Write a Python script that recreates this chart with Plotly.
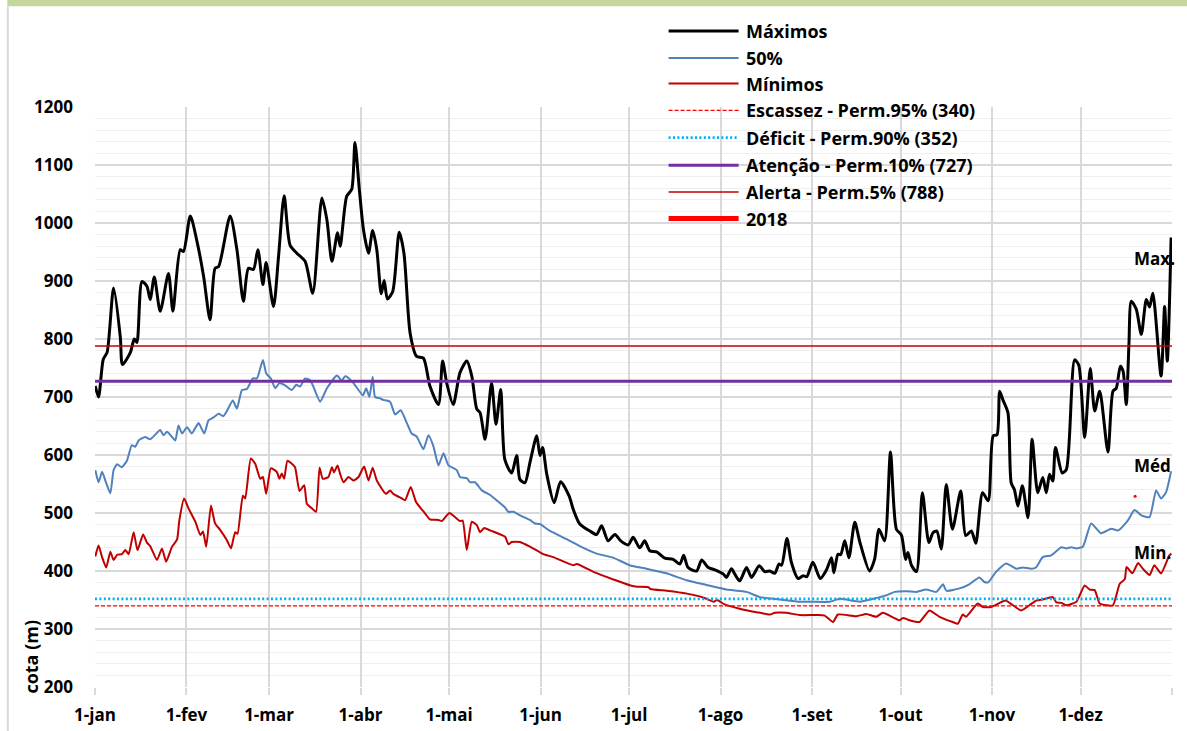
import plotly.graph_objects as go

# ---------------- data ----------------
month_days = [0, 31, 59, 90, 120, 151, 181, 212, 243, 273, 304, 334, 365]
month_labels = ["1-jan", "1-fev", "1-mar", "1-abr", "1-mai", "1-jun", "1-jul",
                "1-ago", "1-set", "1-out", "1-nov", "1-dez", ""]

max_days = [0.1, 1.2, 2.8, 4.1, 6.3, 8.6, 9.3, 12.0, 13.3, 14.2, 15.9, 17.6, 18.7, 20.1, 22.1,
            24.9, 26.4, 28.9, 30.0, 32.3, 34.7, 36.8, 39.0, 40.7, 41.9, 45.8, 48.1, 50.3, 52.0,
            53.7, 55.2, 56.9, 58.0, 60.5, 62.2, 64.1, 66.1, 68.4, 71.2, 73.8, 76.9, 78.6, 80.3,
            82.2, 83.1, 85.3, 87.0, 88.1, 89.6, 91.0, 92.7, 94.1, 95.5, 97.0, 98.0, 99.1, 100.9,
            103.1, 104.7, 106.8, 109.0, 111.3, 113.5, 116.4, 117.8, 119.2, 121.4, 123.7, 126.0,
            127.7, 129.4, 130.5, 132.2, 134.4, 135.9, 137.5, 138.9, 141.2, 142.9, 144.0, 145.7,
            147.4, 149.7, 150.8, 151.7, 153.1, 155.6, 157.8, 160.7, 162.1, 164.3, 167.7, 170.0,
            171.7, 173.9, 176.2, 178.2, 180.7, 182.4, 184.6, 186.3, 188.0, 190.3, 193.1, 195.9,
            198.2, 199.5, 201.0, 203.9, 205.6, 207.8, 210.1, 212.9, 214.0, 215.7, 216.8, 218.5,
            220.8, 222.5, 225.1, 227.0, 228.7, 230.4, 231.8, 232.7, 234.5, 236.0, 238.3, 240.0,
            241.2, 243.3, 245.8, 247.9, 249.6, 250.4, 251.8, 252.7, 254.1, 255.5, 257.5, 259.2,
            262.5, 264.2, 265.7, 267.6, 269.6, 271.6, 273.3, 274.7, 275.5, 276.7, 278.4, 280.4,
            282.6, 284.0, 285.3, 286.8, 288.5, 290.6, 293.4, 295.1, 297.0, 298.5, 300.8, 302.7,
            304.4, 305.7, 306.6, 307.7, 309.4, 310.5, 311.6, 312.8, 314.3, 316.2, 317.6, 319.5,
            321.2, 322.4, 323.5, 324.6, 325.5, 327.8, 329.2, 332.0, 333.4, 335.4, 337.3, 338.8,
            340.5, 343.3, 345.0, 346.1, 347.5, 348.4, 349.5, 350.4, 351.2, 352.9, 354.6, 356.3,
            357.4, 358.5, 361.3, 362.5, 363.4, 364.7]
max_vals = [719, 700, 765, 777, 888, 802, 756, 777, 800, 794, 899, 891, 868, 907, 848,
            913, 848, 954, 951, 1012, 965, 908, 833, 922, 925, 1012, 954, 865, 922,
            920, 954, 894, 932, 856, 942, 1047, 962, 948, 934, 879, 1043, 1005, 934,
            983, 960, 1046, 1058, 1139, 1057, 988, 948, 987, 954, 878, 901, 869, 882,
            984, 948, 810, 770, 767, 719, 687, 762, 724, 687, 742, 762,
            736, 679, 673, 627, 724, 653, 713, 592, 569, 599, 558, 552,
            587, 633, 599, 613, 567, 518, 554, 529, 506, 481, 469, 463,
            478, 452, 463, 452, 445, 458, 440, 452, 435, 433, 422, 420,
            412, 427, 406, 400, 419, 406, 402, 395, 389, 404, 395, 383,
            406, 389, 409, 399, 400, 396, 412, 410, 456, 415, 387, 392,
            390, 415, 387, 402, 423, 397, 429, 428, 452, 423, 484, 450,
            400, 420, 472, 452, 605, 472, 462, 420, 432, 410, 399, 535,
            449, 466, 469, 438, 549, 472, 538, 461, 469, 448, 535, 521,
            633, 635, 710, 695, 673, 552, 540, 512, 547, 492, 627, 535,
            561, 535, 567, 555, 613, 569, 575, 764, 755, 630, 749, 676,
            710, 605, 710, 715, 753, 745, 687, 790, 865, 851, 808, 868,
            855, 879, 736, 856, 762, 975]

med_days = [0.1, 1.2, 2.4, 3.5, 5.2, 6.3, 7.5, 9.1, 10.8, 12.5, 13.6, 14.8, 17.0, 18.7, 22.1,
            23.2, 24.4, 26.1, 27.2, 28.3, 29.5, 31.2, 32.8, 35.1, 37.0, 38.5, 40.2, 41.9, 43.5,
            44.5, 46.7, 48.1, 49.8, 51.5, 53.5, 54.9, 56.9, 58.0, 59.6, 61.1, 62.5, 64.4, 66.7,
            68.2, 69.5, 71.2, 72.9, 74.0, 76.3, 78.6, 82.0, 83.6, 84.8, 87.6, 90.8, 91.9, 93.0,
            94.1, 94.9, 96.4, 97.7, 100.0, 101.7, 103.6, 105.7, 107.3, 109.0, 111.3, 113.0,
            114.7, 116.4, 118.1, 119.8, 122.6, 123.7, 126.0, 127.1, 128.8, 131.1, 133.9, 136.1,
            138.9, 140.1, 141.8, 144.0, 147.4, 149.1, 150.8, 154.2, 159.8, 164.3, 170.0, 175.6,
            181.2, 186.9, 193.7, 200.5, 207.2, 214.0, 220.8, 225.3, 232.1, 238.9, 242.3, 249.0,
            252.4, 259.2, 263.7, 268.2, 271.0, 275.0, 278.4, 281.7, 285.1, 287.4, 288.5, 293.0,
            296.3, 299.7, 301.4, 302.8, 305.3, 308.8, 312.2, 314.4, 317.3, 318.9, 321.2, 324.1,
            327.5, 329.2, 330.9, 332.6, 334.8, 337.6, 341.0, 344.4, 346.7, 350.0, 352.3, 354.6,
            357.4, 359.6, 361.3, 363.0, 364.7]
med_vals = [574, 553, 571, 556, 534, 574, 584, 579, 590, 617, 614, 625, 631, 627, 643,
            634, 640, 631, 625, 651, 637, 648, 637, 655, 637, 660, 665, 671, 667,
            674, 694, 680, 712, 714, 732, 732, 764, 741, 732, 715, 724, 720, 712,
            721, 718, 732, 729, 718, 692, 715, 737, 728, 736, 724, 703, 715, 700,
            735, 700, 698, 695, 692, 670, 677, 655, 637, 632, 610, 634,
            615, 582, 603, 582, 574, 562, 560, 553, 553, 539, 531, 522,
            510, 502, 502, 496, 488, 482, 481, 469, 455, 443, 430, 423,
            410, 404, 396, 384, 376, 368, 364, 355, 351, 347, 347, 347,
            352, 347, 352, 358, 364, 365, 364, 368, 364, 377, 366, 370,
            377, 389, 381, 381, 398, 413, 404, 406, 404, 406, 424, 427,
            441, 439, 441, 439, 442, 482, 465, 473, 470, 487, 505, 496,
            493, 539, 525, 536, 572]

min_days = [0.1, 1.2, 2.4, 3.8, 5.2, 6.3, 7.5, 9.1, 10.3, 11.4, 13.1, 14.4, 16.3, 17.6, 18.7,
            21.0, 22.7, 24.1, 26.1, 27.8, 28.6, 30.2, 31.7, 34.0, 35.7, 36.6, 37.7, 39.3, 40.7,
            42.4, 44.7, 46.1, 47.5, 48.3, 50.1, 50.9, 52.8, 54.3, 56.0, 56.9, 58.0, 59.6, 61.6,
            62.5, 63.3, 64.1, 65.2, 66.7, 67.8, 69.3, 70.9, 71.8, 73.5, 74.9, 76.1, 77.2, 79.1,
            80.3, 81.0, 82.2, 83.1, 84.2, 85.9, 87.6, 89.3, 91.2, 92.7, 94.1, 95.5, 98.6, 100.0,
            101.1, 104.0, 105.1, 107.0, 108.8, 111.9, 113.5, 116.4, 117.5, 120.1, 122.0, 123.7,
            124.6, 126.0, 127.7, 129.4, 130.5, 131.9, 133.9, 139.0, 140.1, 141.2, 144.0, 147.4,
            151.9, 155.3, 162.1, 163.3, 169.1, 175.9, 181.5, 183.8, 187.6, 188.2, 193.8, 200.6,
            206.3, 209.7, 210.8, 213.2, 218.5, 224.2, 228.7, 230.4, 234.3, 238.8, 244.5, 247.3,
            250.1, 251.8, 258.0, 261.4, 264.8, 267.0, 272.7, 273.8, 276.1, 279.4, 282.8, 286.2,
            290.7, 292.4, 294.1, 295.2, 296.3, 299.2, 300.9, 303.7, 306.6, 308.6, 311.1, 313.9,
            316.7, 319.0, 321.2, 324.6, 325.8, 327.5, 329.2, 332.6, 335.4, 337.1, 338.8, 340.5,
            342.7, 345.0, 347.3, 349.0, 349.6, 351.6, 353.5, 355.1, 357.4, 359.0, 361.3, 364.1,
            364.8]
min_vals = [425, 444, 424, 406, 433, 419, 428, 429, 436, 429, 467, 436, 463, 449, 443,
            419, 439, 416, 442, 454, 488, 525, 508, 485, 462, 468, 442, 513, 482,
            471, 453, 439, 467, 464, 530, 525, 594, 585, 559, 562, 533, 577, 571,
            559, 568, 559, 590, 585, 579, 538, 548, 516, 508, 502, 578, 559, 562,
            579, 570, 582, 567, 553, 562, 556, 562, 580, 556, 578, 556, 533, 539,
            533, 525, 522, 545, 519, 499, 489, 488, 486, 500, 493, 486,
            487, 436, 485, 479, 467, 474, 470, 459, 446, 450, 450, 442,
            429, 424, 410, 412, 398, 385, 375, 373, 372, 369, 366, 361,
            354, 347, 350, 343, 335, 329, 325, 328, 328, 324, 324, 323,
            312, 325, 322, 326, 321, 328, 315, 319, 315, 312, 332, 321,
            312, 309, 325, 321, 327, 344, 338, 338, 345, 349, 341, 332,
            341, 349, 351, 355, 346, 345, 341, 347, 375, 368, 367, 344,
            341, 341, 378, 386, 407, 396, 414, 404, 393, 410, 396, 427,
            430]

y2018_days = [352.5]
y2018_vals = [529]

escassez = 340
deficit = 352
atencao = 727
alerta = 788

legend_names = ["Máximos", "50%", "Mínimos", "Escassez - Perm.95% (340)",
                "Déficit - Perm.90% (352)", "Atenção - Perm.10% (727)",
                "Alerta - Perm.5% (788)", "2018"]

# ---------------- styles ----------------
FONT = "'Open Sans', Lato, sans-serif"
C_MAX = "#000000"
C_MED = "#4f81bd"
C_MIN = "#c00000"
C_ESC = "#ff0000"
C_DEF = "#00b0f0"
C_ATE = "#7030a0"
C_ALE = "#c00000"
C_2018 = "#ff0000"

styles = [
    dict(color=C_MAX, width=3),
    dict(color=C_MED, width=2),
    dict(color=C_MIN, width=2),
    dict(color=C_ESC, width=1.3, dash="4px,2px"),
    dict(color=C_DEF, width=2.6, dash="2px,2.4px"),
    dict(color=C_ATE, width=3),
    dict(color=C_ALE, width=1.6),
    dict(color=C_2018, width=5),
]

W, H = 1187, 731
L, R, T, B = 94.7, 1171.7, 106.7, 686.7


def px(xp):
    return (xp - L) / (R - L)


def py(yp):
    return (B - yp) / (B - T)


fig = go.Figure()
fig.add_trace(go.Scatter(x=max_days, y=max_vals, mode="lines", name=legend_names[0],
                         line=dict(**styles[0], shape="spline", smoothing=0.7)))
fig.add_trace(go.Scatter(x=med_days, y=med_vals, mode="lines", name=legend_names[1],
                         line=dict(**styles[1], shape="spline", smoothing=0.5)))
fig.add_trace(go.Scatter(x=min_days, y=min_vals, mode="lines", name=legend_names[2],
                         line=dict(**styles[2], shape="spline", smoothing=0.5)))
for i, val in enumerate([escassez, deficit, atencao, alerta]):
    fig.add_trace(go.Scatter(x=[month_days[0], month_days[-1]], y=[val, val], mode="lines",
                             name=legend_names[3 + i], line=styles[3 + i]))
fig.add_trace(go.Scatter(x=y2018_days, y=y2018_vals, mode="markers", name=legend_names[7],
                         marker=dict(color=C_2018, size=3)))

shapes = []
annotations = []
# manual legend
legend_rows = [30.7, 57.7, 83.3, 110, 137.3, 165, 191.7, 218.3]
for i, yy in enumerate(legend_rows):
    st = styles[i]
    ln = dict(color=st["color"], width=st["width"])
    if "dash" in st:
        ln["dash"] = st["dash"]
    shapes.append(dict(type="line", xref="paper", yref="paper", x0=px(668.3), x1=px(738.3),
                       y0=py(yy), y1=py(yy), line=ln))
    annotations.append(dict(text="<b>%s</b>" % legend_names[i], xref="paper", yref="paper",
                            x=px(744), y=py(yy), xanchor="left", yanchor="middle",
                            showarrow=False, font=dict(family=FONT, size=18, color="black")))

# series end labels
for txt, yv in [("Max.", 939), ("Méd", 582), ("Min.", 432)]:
    annotations.append(dict(text="<b>%s</b>" % txt, x=351.4, y=yv, xref="x", yref="y",
                            xanchor="left", yanchor="middle", showarrow=False,
                            font=dict(family=FONT, size=17, color="black")))

# axis title
annotations.append(dict(text="<b>cota (m)</b>", xref="paper", yref="paper", x=px(31), y=py(656),
                        textangle=-90, showarrow=False, xanchor="center", yanchor="middle",
                        font=dict(family=FONT, size=18, color="black")))

# frame decoration
shapes.append(dict(type="rect", xref="paper", yref="paper", x0=px(7), x1=px(W + 5),
                   y0=py(6), y1=py(-5), fillcolor="#c3d69b", line=dict(width=0), layer="below"))
shapes.append(dict(type="line", xref="paper", yref="paper", x0=px(7.5), x1=px(7.5),
                   y0=py(6), y1=py(H + 5), line=dict(color="#d9d9d9", width=2), layer="below"))

fig.update_layout(
    width=W, height=H,
    margin=dict(l=L, r=W - R, t=T, b=H - B, pad=0, autoexpand=False),
    paper_bgcolor="white", plot_bgcolor="white",
    showlegend=False,
    shapes=shapes, annotations=annotations,
    font=dict(family=FONT, size=18, color="black"),
)
fig.update_xaxes(range=[0, 365], tickvals=month_days, ticktext=["<b>%s</b>" % t for t in month_labels],
                 showgrid=True, gridcolor="#d9d9d9", gridwidth=1.5, zeroline=False,
                 ticks="outside", ticklen=7, tickcolor="#d9d9d9", tickwidth=1.5,
                 tickfont=dict(family=FONT, size=17, color="black"), ticklabelstandoff=6,
                 showline=False, automargin=False)
fig.update_yaxes(range=[200, 1200], tickvals=list(range(200, 1201, 100)),
                 ticktext=["<b>%d</b>" % v for v in range(200, 1201, 100)],
                 showgrid=True, gridcolor="#d9d9d9", gridwidth=1.5, zeroline=False,
                 minor=dict(dtick=20, tick0=200, showgrid=True, gridcolor="#efefef", gridwidth=1.3),
                 tickfont=dict(family=FONT, size=17, color="black"), ticklabelstandoff=21,
                 showline=False, automargin=False)

fig.write_html("out.html", config={"displayModeBar": False},
               post_script="document.body.style.margin='0';")
